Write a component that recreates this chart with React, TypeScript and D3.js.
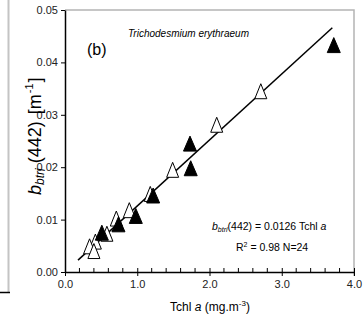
import React, { useEffect, useRef } from 'react';
import * as d3 from 'd3';

// Tchl a (mg.m-3) vs bbtri(442) (m-1), Trichodesmium erythraeum
const openTchl = [2.71, 2.10, 1.49, 1.18, 0.89, 0.71, 0.58, 0.42, 0.34, 0.40];
const openBb = [0.0345, 0.0281, 0.0195, 0.0149, 0.0118, 0.0102, 0.0073, 0.0058, 0.0049, 0.0040];
const filledTchl = [3.72, 1.73, 1.74, 1.22, 0.98, 0.74, 0.51];
const filledBb = [0.0433, 0.0245, 0.0198, 0.0146, 0.0107, 0.0091, 0.0075];

const fitSlope = 0.0126;
const fitRange = [0.18, 3.70];

const xTicks = [0, 1, 2, 3, 4];
const yTicks = [0, 0.01, 0.02, 0.03, 0.04, 0.05];

const W = 364;
const H = 320;

export default function App() {
  const svgRef = useRef<SVGSVGElement>(null);

  useEffect(() => {
    if (!svgRef.current) return;
    const svg = d3.select(svgRef.current);
    svg.selectAll('*').remove();

    const x = d3.scaleLinear().domain([0, 4]).range([65, 354]);
    const y = d3.scaleLinear().domain([0, 0.05]).range([272, 10]);
    const font = '"Liberation Sans", Arial, sans-serif';

    // bits of the neighbouring panel frame
    svg.append('line').attr('x1', 8.5).attr('x2', 8.5).attr('y1', 0).attr('y2', 292)
      .attr('stroke', '#c4c4c4').attr('stroke-width', 2);
    svg.append('line').attr('x1', 0).attr('x2', 10).attr('y1', 292.5).attr('y2', 292.5)
      .attr('stroke', '#000').attr('stroke-width', 1.5);

    // plot frame (top / right)
    svg.append('path')
      .attr('d', `M${x(0)},${y(0.05)}H${x(4)}V${y(0) + 4}`)
      .attr('fill', 'none').attr('stroke', '#b4b4b4').attr('stroke-width', 1.5);

    // y axis
    const gy = svg.append('g').attr('transform', `translate(${x(0)},0)`)
      .call(d3.axisLeft(y).tickValues(yTicks).tickSize(4).tickSizeOuter(0)
        .tickFormat(d3.format('.2f')));
    gy.selectAll('text').style('font-family', font).style('font-size', '11px').style('fill', '#222');

    // x axis with minor ticks pointing up
    const gx = svg.append('g').attr('transform', `translate(0,${y(0)})`)
      .call(d3.axisBottom(x).tickValues(xTicks).tickSize(4).tickSizeOuter(0)
        .tickFormat(d3.format('.1f')));
    gx.selectAll('.tick line').attr('y1', -4);
    gx.selectAll('text').style('font-family', font).style('font-size', '11px').style('fill', '#222')
      .attr('y', 8);
    const minor = d3.range(0, 4.001, 0.2).filter(v => Math.abs(v - Math.round(v)) > 1e-6);
    gx.selectAll('.minor').data(minor).enter().append('line')
      .attr('x1', d => x(d)).attr('x2', d => x(d)).attr('y1', 0).attr('y2', -4)
      .attr('stroke', '#000');
    svg.selectAll('.domain').attr('stroke', '#000').attr('stroke-width', 1.5);
    svg.selectAll('.tick line').attr('stroke', '#000');

    // regression line
    svg.append('line')
      .attr('x1', x(fitRange[0])).attr('y1', y(fitSlope * fitRange[0]))
      .attr('x2', x(fitRange[1])).attr('y2', y(fitSlope * fitRange[1]))
      .attr('stroke', '#000').attr('stroke-width', 1.5);

    const tri = (cx: number, cy: number, w: number, h: number) =>
      `M${cx},${cy - h / 2}L${cx + w / 2},${cy + h / 2}L${cx - w / 2},${cy + h / 2}Z`;

    svg.append('g').selectAll('path').data(openTchl).enter().append('path')
      .attr('d', (d, i) => tri(x(d), y(openBb[i]), 12, 15))
      .attr('fill', '#fff').attr('stroke', '#000').attr('stroke-width', 1);

    svg.append('g').selectAll('path').data(filledTchl).enter().append('path')
      .attr('d', (d, i) => tri(x(d), y(filledBb[i]), 13, 15))
      .attr('fill', '#000').attr('stroke', '#000').attr('stroke-width', 1);

    // labels
    svg.append('text').attr('x', 87).attr('y', 55).style('font-family', font)
      .style('font-size', '16px').text('(b)');
    svg.append('text').attr('x', 128).attr('y', 37).style('font-family', font)
      .style('font-size', '10px').style('font-style', 'italic').text('Trichodesmium erythraeum');

    const eq = svg.append('text').attr('x', 212).attr('y', 230)
      .style('font-family', font).style('font-size', '10.5px');
    eq.append('tspan').style('font-style', 'italic').text('b');
    eq.append('tspan').style('font-style', 'italic').style('font-size', '7px').attr('dy', 2).text('btri');
    eq.append('tspan').attr('dy', -2).text('(442) = 0.0126 Tchl ');
    eq.append('tspan').style('font-style', 'italic').text('a');

    const r2 = svg.append('text').attr('x', 236).attr('y', 251)
      .style('font-family', font).style('font-size', '10.5px');
    r2.append('tspan').text('R');
    r2.append('tspan').style('font-size', '7px').attr('dy', -4).text('2');
    r2.append('tspan').attr('dy', 4).text(' = 0.98  N=24');

    const xt = svg.append('text').attr('x', 210).attr('y', 311).attr('text-anchor', 'middle')
      .style('font-family', font).style('font-size', '12px');
    xt.append('tspan').text('Tchl ');
    xt.append('tspan').style('font-style', 'italic').text('a');
    xt.append('tspan').text(' (mg.m');
    xt.append('tspan').style('font-size', '8px').attr('dy', -5).text('-3');
    xt.append('tspan').attr('dy', 5).text(')');

    // y title: separate pieces laid out one after another, rotated
    const ytG = svg.append('g').attr('transform', 'translate(41,195) rotate(-90)')
      .style('font-family', font);
    const pieces = [
      { t: 'b', size: 18, italic: true, dy: 0, gap: 0 },
      { t: 'btri', size: 12, italic: true, dy: 3, gap: 5 },
      { t: '(442)', size: 18, italic: false, dy: 0, gap: 7 },
      { t: '[m', size: 18, italic: false, dy: 0, gap: 1 },
      { t: '-1', size: 11, italic: false, dy: -8, gap: 1 },
      { t: ']', size: 18, italic: false, dy: 0, gap: 0 },
    ];
    let cursor = 0;
    pieces.forEach(p => {
      const el = ytG.append('text').attr('x', cursor).attr('y', p.dy)
        .style('font-size', `${p.size}px`).style('font-style', p.italic ? 'italic' : 'normal')
        .text(p.t);
      cursor += (el.node() as SVGTextElement).getComputedTextLength() + p.gap;
    });
  }, []);

  return (
    <svg
      ref={svgRef}
      width={W}
      height={H}
      style={{ position: 'absolute', left: 0, top: 0, display: 'block', background: '#fff' }}
    />
  );
}
